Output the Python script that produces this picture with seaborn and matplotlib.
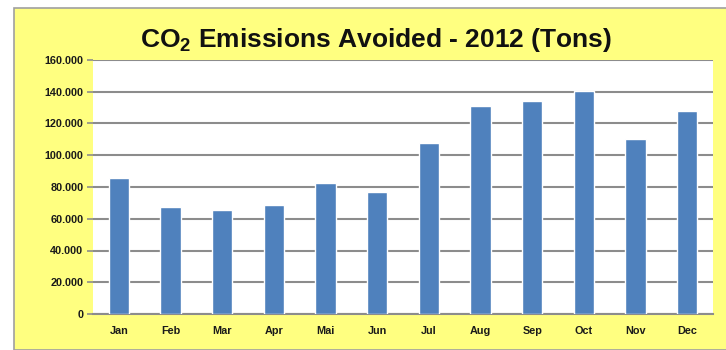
import matplotlib
matplotlib.use("Agg")
import matplotlib.pyplot as plt
from matplotlib.patches import Rectangle
from matplotlib.ticker import FuncFormatter, MultipleLocator
import numpy as np
import pandas as pd
import seaborn as sns

months = ["Jan", "Feb", "Mar", "Apr", "Mai", "Jun", "Jul", "Aug", "Sep", "Oct", "Nov", "Dec"]
emissions = [85500, 67600, 65500, 68700, 82300, 77000, 107500, 130800, 134200, 140700, 110000, 127900]

df = pd.DataFrame({"Month": months, "Tons": emissions})

sns.set_style("white")
plt.rcParams["font.family"] = ["Liberation Sans", "DejaVu Sans"]
plt.rcParams["mathtext.fontset"] = "custom"
plt.rcParams["mathtext.rm"] = "Liberation Sans:bold"
plt.rcParams["mathtext.default"] = "rm"

fig = plt.figure(figsize=(7.26, 3.5), dpi=100)
fig.patch.set_facecolor("white")
# yellow chart frame, behind the axes
fig.patches.append(Rectangle((14 / 726, 0), 1, 1 - 8 / 350, transform=fig.transFigure,
                             facecolor="#FFFF80", edgecolor="#A0A0A0", linewidth=1.2, zorder=-5))

ax = fig.add_axes([93 / 726, 36 / 350, 620 / 726, 254 / 350])
ax.set_facecolor("white")
sns.barplot(data=df, x="Month", y="Tons", color="#4F81BD", width=0.39, saturation=1, ax=ax, zorder=3)

ax.set_ylim(0, 160000)
ax.set_xlim(-0.5, 11.5)
ax.yaxis.set_major_locator(MultipleLocator(20000))
ax.yaxis.set_major_formatter(FuncFormatter(lambda v, p: f"{int(v):,}".replace(",", ".")))
ax.grid(axis="y", color="#8C8C8C", linewidth=1.5, zorder=0)
ax.set_axisbelow(True)
for s in ["top", "right", "left"]:
    ax.spines[s].set_visible(False)
ax.spines["bottom"].set_color("#8C8C8C")
ax.spines["bottom"].set_linewidth(1.5)

ax.set_xticks(np.arange(-0.5, 12, 1), minor=True)
ax.tick_params(axis="x", which="major", length=0, pad=9)
ax.tick_params(axis="x", which="minor", length=4, color="#8C8C8C", width=1.2)
ax.tick_params(axis="y", length=4, color="#8C8C8C", width=1.2, left=True, pad=3)
for lab in ax.get_xticklabels() + ax.get_yticklabels():
    lab.set_fontweight("bold")
    lab.set_fontsize(7.8)
    lab.set_color("#1A1A1A")
ax.set_xlabel("")
ax.set_ylabel("")

fig.text(376 / 726, 1 - 40 / 350, "CO$_{2}$ Emissions Avoided - 2012 (Tons)",
         ha="center", va="center", fontsize=19, fontweight="bold", color="#111111")

fig.savefig("out.png", dpi=100)
